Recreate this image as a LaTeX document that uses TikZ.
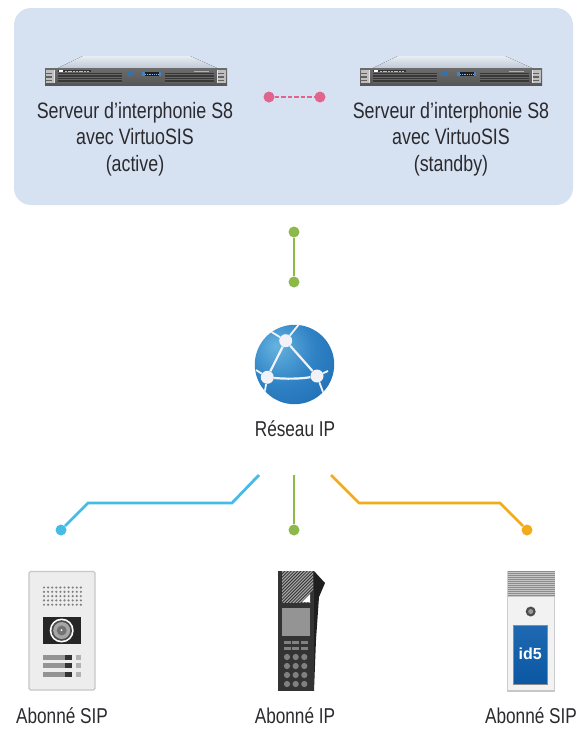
\documentclass[tikz,border=0pt]{standalone}
\usepackage{fontspec}
\setmainfont{Liberation Sans}
\newfontfamily\labfont[FakeStretch=0.80]{Liberation Sans}
\usetikzlibrary{calc}
\definecolor{panelblue}{HTML}{D6E2F2}
\definecolor{inktext}{HTML}{2B2A2E}
\definecolor{linkpink}{HTML}{E2638C}
\definecolor{linkgreen}{HTML}{8DB84A}
\definecolor{linkcyan}{HTML}{45BCE5}
\definecolor{linkorange}{HTML}{F0AC1B}
\definecolor{phonedark}{HTML}{333333}
\definecolor{globeA}{HTML}{66B3E0}
\definecolor{globeB}{HTML}{2F82C4}
\definecolor{globeC}{HTML}{1A66AE}
\definecolor{knotcol}{HTML}{F0F2F8}
\definecolor{srvtopA}{HTML}{E8EDF4}
\definecolor{srvtopB}{HTML}{C0C9D6}
\definecolor{srvblue}{HTML}{3F86C8}
\definecolor{idA}{HTML}{1F69B2}
\definecolor{idB}{HTML}{0A7FC2}
\definecolor{idC}{HTML}{0B57A2}
\pgfdeclareradialshading{globeshade}{\pgfpoint{-12bp}{12bp}}{
  color(0bp)=(globeA);
  color(22bp)=(globeB);
  color(48bp)=(globeC);
  color(100bp)=(globeC)}
\tikzset{
  x=1pt,y=-1pt,
  lab/.style={font=\labfont\fontsize{21.5}{26.5}\selectfont,text=inktext,align=center,inner sep=0pt},
  labsrv/.style={lab,font=\labfont\fontsize{22.3}{26.5}\selectfont},
  enddot/.style={circle,fill=#1,minimum size=11pt,inner sep=0pt},
  wire/.style={line width=2.8pt,color=#1},
  globeknot/.style={circle,fill=knotcol,minimum size=13pt,inner sep=0pt},
  globeline/.style={knotcol,line width=#1},
  servericon/.pic={
    \fill[top color=srvtopA,bottom color=srvtopB] (13,0) -- (38,-12) -- (145,-12) -- (172,0) -- cycle;
    \fill[top color=black!58,bottom color=black!66] (0,0) rectangle (182,17);
    \foreach \ex in {1,173}{
      \fill[black!25] (\ex,2) rectangle +(7.5,13);
      \foreach \ey in {4.5,8,11.5}\fill[black!62] (\ex,\ey) rectangle +(5.5,1.6);
    }
    \fill[black!10] (8.5,2) rectangle (9.5,15);
    \fill[black!10] (172,2) rectangle (173,15);
    \foreach \gx/\gw in {13/64,120/49}{
      \fill[black!78] (\gx,5) rectangle +(\gw,10);
      \foreach \gy in {6.5,9,11.5,14}\draw[black!60,line width=.5pt] (\gx,\gy) -- +(\gw,0);
    }
    \fill[black!80] (13,2) rectangle (46,4);
    \fill[white!90] (14,2.4) rectangle (18,3.6);
    \draw[black!25,line width=.8pt,dash pattern=on 2pt off .7pt] (20,3) -- (44,3);
    \draw[black!30,line width=.8pt] (149,3) -- (164,3);
    \fill[black!88] (97,4) rectangle (116,8);
    \fill[srvblue] (97,4) rectangle (99.5,8);
    \fill[srvblue] (113.5,4) rectangle (116,8);
    \draw[srvblue!60!white,line width=.5pt,dash pattern=on 1pt off .8pt] (100,6) -- (113,6);
    \fill[srvblue!85!black] (82,3) rectangle (88,5);
    \fill[srvblue!85!black] (82,6) rectangle (88,8);
  }
}
\begin{document}
\begin{tikzpicture}
\useasboundingbox (0,0) rectangle (588,729);
\fill[white] (0,0) rectangle (588,729);
% panel
\fill[panelblue,rounded corners=17pt] (14,8) rectangle (573,205);
\pic at (45,68) {servericon};
\pic at (360,68) {servericon};
\node[labsrv] (srvA) at (135,139) {Serveur d’interphonie S8\\avec VirtuoSIS\\(active)};
\node[labsrv] (srvB) at (451,139) {Serveur d’interphonie S8\\avec VirtuoSIS\\(standby)};
% link between servers
\node[enddot=linkpink] (pinkA) at (269,97) {};
\node[enddot=linkpink] (pinkB) at (320,97) {};
\draw[wire=linkpink,line width=2.4pt,dash pattern=on 4.5pt off 2pt] (pinkA) -- (pinkB);
% server to network
\node[enddot=linkgreen] (greenA) at (294,232) {};
\node[enddot=linkgreen] (greenB) at (294,282) {};
\draw[wire=linkgreen] (greenA) -- (greenB);
% globe
\shade[shading=globeshade] (294.5,364.5) circle[radius=39.7pt];
\begin{scope}
\clip (294.5,364.5) circle[radius=39.7pt];
\coordinate (gtA) at (270,331);
\coordinate (gtB) at (300,323);
\coordinate (gl) at (264,396);
\coordinate (gla) at (256,370);
\coordinate (gr) at (328,371);
\coordinate (grb) at (326,400);
\node[globeknot] (knotA) at (285.7,340.7) {};
\node[globeknot] (knotB) at (267.3,377.3) {};
\node[globeknot] (knotC) at (317,376) {};
\draw[globeline=2.2pt] (knotA) -- (knotB);
\draw[globeline=2.2pt] (knotA) -- (knotC);
\draw[globeline=2.2pt] (knotB) .. controls (285,379) and (300,379) .. (knotC);
\draw[globeline=1.8pt] (knotA) -- (gtA);
\draw[globeline=1.8pt] (knotA) -- (gtB);
\draw[globeline=1.8pt] (knotB) -- (gl);
\draw[globeline=1.8pt] (knotB) -- (gla);
\draw[globeline=1.8pt] (knotC) -- (gr);
\draw[globeline=1.8pt] (knotC) -- (grb);
\end{scope}
\node[lab] (net) at (295,429) {Réseau IP};
% three branches
\coordinate (cyanS) at (259,475);
\coordinate (cyanM) at (232,503);
\coordinate (cyanN) at (88,503);
\node[enddot=linkcyan] (cyanE) at (61,530) {};
\draw[wire=linkcyan] (cyanS) -- (cyanM) -- (cyanN) -- (cyanE);
\coordinate (midS) at (294,475);
\node[enddot=linkgreen] (midE) at (294,530) {};
\draw[wire=linkgreen] (midS) -- (midE);
\coordinate (orS) at (331,475);
\coordinate (orM) at (359,503);
\coordinate (orN) at (500,503);
\node[enddot=linkorange] (orE) at (527,530) {};
\draw[wire=linkorange] (orS) -- (orM) -- (orN) -- (orE);
% device 1
\fill[black!7,draw=black!22,line width=1.2pt,rounded corners=1.5pt] (29,571.5) rectangle (95,690);
\foreach \i in {0,...,9}\foreach \j in {0,...,4}
  \fill[black!50] (44+\i*4.1,587.5+\j*4.3) circle[radius=1.2pt];
\fill[black!85] (43,617) rectangle (81,644);
\fill[white!88] (61.7,630.5) circle[radius=12pt];
\fill[black!70] (61.7,630.5) circle[radius=10.3pt];
\fill[black!35] (61.7,630.5) circle[radius=8.5pt];
\fill[black!55] (61.7,630.5) circle[radius=5pt];
\fill[white] (61.5,630) circle[radius=1pt];
\foreach \by in {657,665.5,674.5}{
  \fill[black!42] (43,\by-2.5) rectangle (65,\by+2.5);
  \fill[black!80] (65,\by-2.5) rectangle (72,\by+2.5);
  \fill[black!30] (76,\by-2.5) rectangle (81,\by+2.5);
}
\node[lab] (subA) at (62,716) {Abonné SIP};
% device 2
\fill[black!88] (314,571) -- (325,583) -- (319,597) -- (316,640) -- (314,691) -- cycle;
\fill[phonedark] (278,571) rectangle (314,691);
\begin{scope}
\clip (282,571) rectangle (313,602);
\foreach \h in {0,3.2,...,64}
  \draw[black!35,line width=1.1pt] (278+\h-36,606) -- (278+\h,570);
\end{scope}
\fill[phonedark] (302,602) -- (313,602) -- (313,590) -- cycle;
\fill[white] (302,602) -- (310,602) -- (310,594) -- cycle;
\fill[black!42] (282,608) rectangle (310,636);
\foreach \kx in {284,292,301}\foreach \ky in {641,647}
  \fill[black!50] (\kx,\ky) rectangle +(6.5,3);
\foreach \ky in {657,666,675,684}\foreach \kx in {287,295.7,304.3}
  \fill[black!50] (\kx,\ky) circle[radius=3.1pt];
\node[lab] (subB) at (295,716) {Abonné IP};
% device 3
\fill[black!5] (507,571) rectangle (555,692);
\fill[black!22] (507,689.5) rectangle (555,692);
\fill[black!20] (507,571) rectangle (508,692);
\fill[black!20] (554,571) rectangle (555,692);
\fill[black!45] (507.5,571) rectangle (554.5,597);
\foreach \sy in {572.5,574.5,...,596.5}
  \draw[black!22,line width=.6pt] (507.5,\sy) -- (554.5,\sy);
\fill[black!70] (530.7,611.5) circle[radius=5pt];
\fill[black!40] (530.7,611.5) circle[radius=2.5pt];
\shade[top color=idA,middle color=idB,bottom color=idC,draw=black!45,line width=.6pt] (513.5,625) rectangle (547,684);
\node[font=\bfseries\fontsize{16}{16}\selectfont,text=white,inner sep=0pt] (idfive) at (530.3,654) {id5};
\node[lab] (subC) at (531,716) {Abonné SIP};
\end{tikzpicture}
\end{document}
